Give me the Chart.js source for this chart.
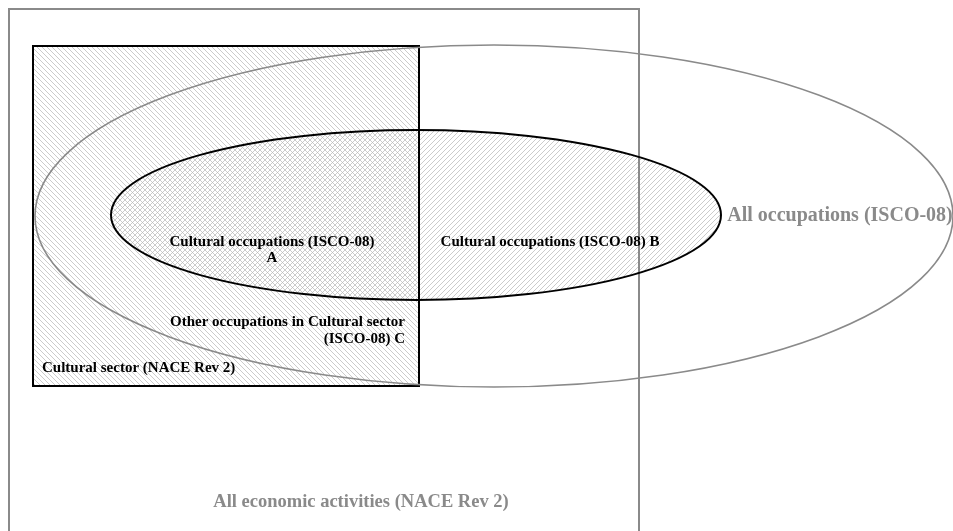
<!DOCTYPE html>
<html>
<head>
<meta charset="utf-8">
<script src="https://cdn.jsdelivr.net/npm/chart.js@4.4.1/dist/chart.umd.min.js"></script>
<style>
  html, body { margin: 0; padding: 0; background: #ffffff; }
  #wrap { width: 953px; height: 531px; }
</style>
</head>
<body>
<div id="wrap"><canvas id="venn" width="953" height="531"></canvas></div>
<script>
// Diagram units = the 953 x 531 frame of the picture (y counts downwards)

// rectangles: All economic activities, Cultural sector
const rectNames = ['All economic activities (NACE Rev 2)', 'Cultural sector (NACE Rev 2)'];
const rectLeft = [9, 33];
const rectTop = [9, 46];
const rectRight = [639, 419];
const rectBottom = [540, 386];

// ellipses: All occupations, Cultural occupations
const ellipseNames = ['All occupations (ISCO-08)', 'Cultural occupations (ISCO-08)'];
const ellipseCx = [494, 416];
const ellipseCy = [216, 215];
const ellipseRx = [459, 305];
const ellipseRy = [171, 85];

// text labels
const labelText = [
    'Cultural occupations (ISCO-08)', 'A',
    'Cultural occupations (ISCO-08) B',
    'All occupations (ISCO-08)',
    'Other occupations in Cultural sector', '(ISCO-08) C',
    'Cultural sector (NACE Rev 2)',
    'All economic activities (NACE Rev 2)'
];
const labelX = [272, 272, 550, 840, 405, 405, 42, 361];
const labelY = [242, 258, 242, 216, 322, 339, 368, 502];

// ============================================================================
// STYLES
// ============================================================================
const LABEL_ALIGN = ['center', 'center', 'center', 'center', 'right', 'right', 'left', 'center'];
const LABEL_SIZE = [15, 15, 15, 20, 15, 15, 15, 18.5];
const LABEL_GREY = [false, false, false, true, false, false, false, true];
const GREY = '#8a8a8a';

function makeHatch(dir) {
    const s = 5;
    const c = document.createElement('canvas');
    c.width = s; c.height = s;
    const g = c.getContext('2d');
    g.strokeStyle = '#b4b4b4';
    g.lineWidth = 0.7;
    g.beginPath();
    if (dir === 'back') {
        g.moveTo(-1, -1); g.lineTo(s + 1, s + 1);
        g.moveTo(-1, s - 1); g.lineTo(1, s + 1);
        g.moveTo(s - 1, -1); g.lineTo(s + 1, 1);
    } else {
        g.moveTo(-1, s + 1); g.lineTo(s + 1, -1);
        g.moveTo(-1, 1); g.lineTo(1, -1);
        g.moveTo(s - 1, s + 1); g.lineTo(s + 1, s - 1);
    }
    g.stroke();
    return c;
}

const vennPlugin = {
    id: 'venn',
    beforeDatasetsDraw(chart) {
        const ctx = chart.ctx;
        const xs = chart.scales.x;
        const ys = chart.scales.y;
        const px = v => xs.getPixelForValue(v);
        const py = v => ys.getPixelForValue(v);
        const w = v => Math.abs(xs.getPixelForValue(v) - xs.getPixelForValue(0));
        const h = v => Math.abs(ys.getPixelForValue(v) - ys.getPixelForValue(0));

        const rectPath = i => {
            ctx.beginPath();
            ctx.rect(px(rectLeft[i]), py(rectTop[i]), px(rectRight[i]) - px(rectLeft[i]), py(rectBottom[i]) - py(rectTop[i]));
        };
        const ellPath = i => {
            ctx.beginPath();
            ctx.ellipse(px(ellipseCx[i]), py(ellipseCy[i]), w(ellipseRx[i]), h(ellipseRy[i]), 0, 0, Math.PI * 2);
        };

        ctx.save();
        // hatched fills
        rectPath(1);
        ctx.fillStyle = ctx.createPattern(makeHatch('back'), 'repeat');
        ctx.fill();
        ellPath(1);
        ctx.fillStyle = ctx.createPattern(makeHatch('fwd'), 'repeat');
        ctx.fill();

        // outlines
        rectPath(0);
        ctx.strokeStyle = GREY; ctx.lineWidth = 2; ctx.stroke();
        rectPath(1);
        ctx.strokeStyle = '#000'; ctx.lineWidth = 2; ctx.stroke();
        ellPath(0);
        ctx.strokeStyle = GREY; ctx.lineWidth = 1.6; ctx.stroke();
        ellPath(1);
        ctx.strokeStyle = '#000'; ctx.lineWidth = 2; ctx.stroke();

        // labels
        ctx.textBaseline = 'middle';
        labelText.forEach((t, i) => {
            ctx.font = 'bold ' + LABEL_SIZE[i] + 'px "Liberation Serif", "Times New Roman", serif';
            ctx.fillStyle = LABEL_GREY[i] ? GREY : '#000';
            ctx.textAlign = LABEL_ALIGN[i];
            ctx.fillText(t, px(labelX[i]), py(labelY[i]));
        });
        ctx.restore();
    }
};

new Chart(document.getElementById('venn'), {
    type: 'scatter',
    data: {
        datasets: [{
            label: 'centres',
            data: ellipseCx.map((x, i) => ({ x: x, y: ellipseCy[i] })),
            pointRadius: 0
        }]
    },
    options: {
        responsive: false,
        animation: false,
        events: [],
        layout: { padding: 0 },
        plugins: { legend: { display: false }, tooltip: { enabled: false } },
        scales: {
            x: { type: 'linear', min: 0, max: 953, display: false },
            y: { type: 'linear', min: 0, max: 531, reverse: true, display: false }
        }
    },
    plugins: [vennPlugin]
});
</script>
</body>
</html>
